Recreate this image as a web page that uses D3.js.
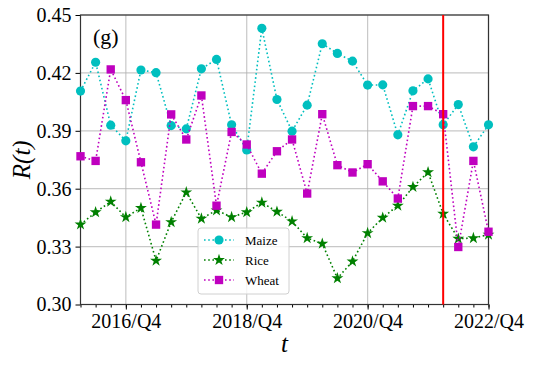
<!DOCTYPE html>
<html lang="en">
<head>
<meta charset="UTF-8">
<title>R(t) chart</title>
<script src="https://d3js.org/d3.v7.min.js"></script>
<style>
  body { margin: 0; padding: 0; background: #fff; }
  svg text { font-family: 'Liberation Serif', 'Times New Roman', serif; }
</style>
</head>
<body>
<svg id="chart" width="533" height="365"></svg>
<script>
// quarters 2016/Q1 .. 2022/Q4
const quarters = [
  "2016/Q1","2016/Q2","2016/Q3","2016/Q4","2017/Q1","2017/Q2","2017/Q3","2017/Q4",
  "2018/Q1","2018/Q2","2018/Q3","2018/Q4","2019/Q1","2019/Q2","2019/Q3","2019/Q4",
  "2020/Q1","2020/Q2","2020/Q3","2020/Q4","2021/Q1","2021/Q2","2021/Q3","2021/Q4",
  "2022/Q1","2022/Q2","2022/Q3","2022/Q4"
];
const maize = [0.4106,0.4255,0.3929,0.3848,0.4215,0.4201,0.3927,0.3910,0.4221,0.4270,
  0.3931,0.3801,0.4431,0.4062,0.3898,0.4033,0.4351,0.4301,0.4261,0.4137,
  0.4138,0.3879,0.4107,0.4169,0.3931,0.4036,0.3817,0.3931];
const rice = [0.3415,0.3478,0.3533,0.3453,0.3500,0.3227,0.3427,0.3581,0.3445,0.3488,
  0.3453,0.3478,0.3528,0.3481,0.3431,0.3344,0.3315,0.3136,0.3223,0.3370,
  0.3450,0.3512,0.3609,0.3685,0.3470,0.3341,0.3344,0.3362];
const wheat = [0.3768,0.3744,0.4218,0.4059,0.3737,0.3414,0.3985,0.3855,0.4083,0.3512,
  0.3894,0.3829,0.3678,0.3794,0.3855,0.3575,0.3986,0.3722,0.3684,0.3727,
  0.3638,0.3549,0.4028,0.4028,0.3986,0.3298,0.3744,0.3377];
const yTicks = [0.30, 0.33, 0.36, 0.39, 0.42, 0.45];
const xMajor = ["2016/Q4", "2018/Q4", "2020/Q4", "2022/Q4"];
const redLine = "2022/Q1";

const svg = d3.select("#chart");
const pLeft = 80.5, pRight = 488.5, pTop = 15, pBottom = 304.5;

const x = d3.scalePoint().domain(quarters).range([pLeft, pRight]);
const y = d3.scaleLinear().domain([0.30, 0.45]).range([pBottom, pTop]);

// grid
svg.append("g").selectAll("line").data(yTicks).join("line")
  .attr("x1", pLeft).attr("x2", pRight)
  .attr("y1", d => y(d)).attr("y2", d => y(d))
  .attr("stroke", "#b0b0b0").attr("stroke-opacity", 0.7).attr("stroke-width", 1.2);
svg.append("g").selectAll("line").data(xMajor).join("line")
  .attr("x1", d => x(d)).attr("x2", d => x(d))
  .attr("y1", pTop).attr("y2", pBottom)
  .attr("stroke", "#b0b0b0").attr("stroke-opacity", 0.7).attr("stroke-width", 1.2);

// axes
svg.append("g").attr("transform", "translate(0," + pBottom + ")")
  .call(d3.axisBottom(x).tickValues(quarters).tickSize(3).tickFormat(""));
svg.append("g").attr("transform", "translate(0," + pBottom + ")")
  .call(d3.axisBottom(x).tickValues(xMajor).tickSize(5).tickPadding(4))
  .call(g => g.selectAll("text").style("font-size", "20px").attr("fill", "#000"));
svg.append("g").attr("transform", "translate(" + pLeft + ",0)")
  .call(d3.axisLeft(y).tickValues(yTicks).tickSize(5).tickPadding(4).tickFormat(d3.format(".2f")))
  .call(g => g.selectAll("text").style("font-size", "20px").attr("fill", "#000"));
svg.selectAll(".domain").remove();

// frame
svg.append("rect").attr("x", pLeft).attr("y", pTop)
  .attr("width", pRight - pLeft).attr("height", pBottom - pTop)
  .attr("fill", "none").attr("stroke", "#333").attr("stroke-width", 1.2);

// series
const series = [
  { name: "Maize", values: maize, color: "#00bfbf", marker: "circle" },
  { name: "Rice", values: rice, color: "#008000", marker: "star" },
  { name: "Wheat", values: wheat, color: "#bf00bf", marker: "square" }
];
const symbols = {
  circle: d3.symbol(d3.symbolCircle, 66),
  star: d3.symbol(d3.symbolStar, 44),
  square: d3.symbol(d3.symbolSquare, 70)
};
const line = d3.line().x((d, i) => x(quarters[i])).y(d => y(d));

series.forEach(s => {
  svg.append("path").datum(s.values)
    .attr("d", line).attr("fill", "none")
    .attr("stroke", s.color).attr("stroke-width", 1.6)
    .attr("stroke-dasharray", "1.6,2.6");
  svg.append("g").selectAll("path").data(s.values).join("path")
    .attr("d", symbols[s.marker])
    .attr("transform", (d, i) => "translate(" + x(quarters[i]) + "," + y(d) + ")")
    .attr("fill", s.color);
});

// red vertical line
svg.append("line")
  .attr("x1", x(redLine)).attr("x2", x(redLine))
  .attr("y1", pTop).attr("y2", pBottom)
  .attr("stroke", "#ff0000").attr("stroke-width", 2);

// legend
const lg = svg.append("g");
lg.append("rect").attr("x", 198).attr("y", 228).attr("width", 91).attr("height", 66)
  .attr("rx", 3).attr("fill", "#fff").attr("fill-opacity", 0.8)
  .attr("stroke", "#d0d0d0");
series.forEach((s, i) => {
  const ly = 240 + i * 20;
  lg.append("line").attr("x1", 204).attr("x2", 234).attr("y1", ly).attr("y2", ly)
    .attr("stroke", s.color).attr("stroke-width", 1.6).attr("stroke-dasharray", "1.6,2.6");
  lg.append("path").attr("d", symbols[s.marker])
    .attr("transform", "translate(219," + ly + ")").attr("fill", s.color);
  lg.append("text").attr("x", 245).attr("y", ly + 4.5)
    .style("font-size", "13px").text(s.name);
});

// labels
svg.append("text").attr("x", 93).attr("y", 44).style("font-size", "22px").text("(g)");
svg.append("text").attr("transform", "translate(30," + ((pTop + pBottom) / 2) + ") rotate(-90)")
  .attr("text-anchor", "middle").style("font-size", "25px").style("font-style", "italic")
  .text("R(t)");
svg.append("text").attr("x", (pLeft + pRight) / 2).attr("y", 352)
  .attr("text-anchor", "middle").style("font-size", "25px").style("font-style", "italic")
  .text("t");
</script>
</body>
</html>
